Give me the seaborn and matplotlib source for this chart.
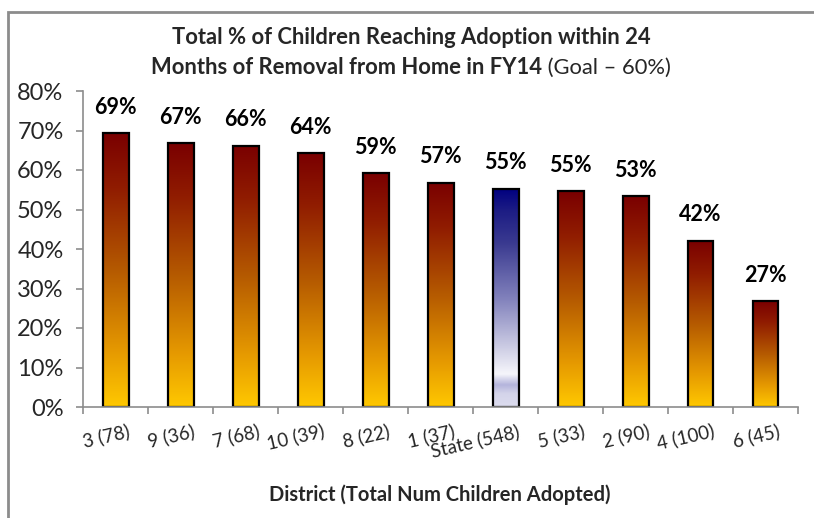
import numpy as np
import pandas as pd
import matplotlib
matplotlib.use("Agg")
import matplotlib.pyplot as plt
import seaborn as sns
from matplotlib.colors import LinearSegmentedColormap
from matplotlib.patches import Rectangle
from matplotlib.transforms import ScaledTranslation, blended_transform_factory

# District labels with total number of children adopted
districts = ["3 (78)", "9 (36)", "7 (68)", "10 (39)", "8 (22)", "1 (37)",
             "State (548)", "5 (33)", "2 (90)", "4 (100)", "6 (45)"]
# Percent reaching adoption within 24 months
pct = [69.3, 66.8, 66.2, 64.2, 59.2, 56.8, 55.3, 54.6, 53.4, 42.1, 26.8]
state_label = "State (548)"
yticks = [0, 10, 20, 30, 40, 50, 60, 70, 80]

sns.set_theme(style="white")
plt.rcParams["font.family"] = ["Lato", "DejaVu Sans"]

df = pd.DataFrame({"district": districts, "pct": pct})

fig = plt.figure(figsize=(8.14, 5.18), dpi=100)
ax = fig.add_axes([83 / 814, 1 - 407 / 518, (798 - 83) / 814, (407 - 91) / 518])

sns.barplot(data=df, x="district", y="pct", order=districts, ax=ax,
            width=0.4, color="white", edgecolor="black", linewidth=1.6,
            saturation=1)

warm = LinearSegmentedColormap.from_list(
    "warm", [(0.0, "#ffc800"), (0.2, "#e69a00"), (0.5, "#b55a00"),
             (0.8, "#901c00"), (1.0, "#7a0000")])
cool = LinearSegmentedColormap.from_list(
    "cool", [(0.0, "#dcdcee"), (0.06, "#d4d4ea"), (0.10, "#b4b4dc"),
             (0.15, "#f6f6fb"), (0.25, "#d4d4e8"), (0.5, "#8080bb"),
             (0.75, "#3a3a90"), (0.9, "#1c1c84"), (1.0, "#000080")])

grad = np.linspace(0, 1, 256).reshape(-1, 1)
for patch, name, v in zip(ax.patches, districts, pct):
    x0 = patch.get_x()
    w = patch.get_width()
    cmap = cool if name == state_label else warm
    im = ax.imshow(grad, cmap=cmap, origin="lower", aspect="auto",
                   extent=[x0, x0 + w, 0, v], zorder=patch.get_zorder() - 0.1,
                   interpolation="bilinear")
    im.set_clip_path(patch)
    patch.set_facecolor("none")
    patch.set_zorder(patch.get_zorder() + 0.2)
    ax.annotate(f"{v:.0f}%", xy=(x0 + w / 2, v), xytext=(0, 11),
                textcoords="offset points", ha="center", va="bottom",
                fontsize=15.5, fontweight="bold", color="black")

ax.set_xlim(-0.5, len(districts) - 0.5)
ax.set_ylim(0, 80)
ax.set_yticks(yticks)
ax.set_yticklabels([f"{t}%" for t in yticks], fontsize=17)

# Category labels, slanted, anchored at their upper right end
ax.set_xticks(np.arange(-0.5, len(districts), 1.0))
ax.set_xticklabels([])
label_trans = blended_transform_factory(ax.transData, ax.transAxes) + \
    ScaledTranslation(0.12, -0.15, fig.dpi_scale_trans)
for i, name in enumerate(districts):
    ax.text(i, 0, name, transform=label_trans, rotation=13, ha="right",
            va="top", rotation_mode="anchor", fontsize=13.5)

ax.tick_params(axis="x", length=5, width=1.2, color="#8c8c8c",
               direction="out", bottom=True)
ax.tick_params(axis="y", length=5, width=1.2, color="#8c8c8c",
               direction="out", left=True, pad=9)

for side in ["top", "right"]:
    ax.spines[side].set_visible(False)
for side in ["left", "bottom"]:
    ax.spines[side].set_color("#8c8c8c")
    ax.spines[side].set_linewidth(1.2)

ax.set_xlabel("")
ax.set_ylabel("")

# Outer chart frame
fig.patches.append(Rectangle((8 / 814, -0.1), 1.2, 1 - 12 / 518 + 0.1,
                             transform=fig.transFigure, fill=False,
                             edgecolor="#8c8c8c", linewidth=2))

# Title: first line bold, second line mixes bold and regular
fig.text(411 / 814, 1 - 38 / 518, "Total % of Children Reaching Adoption within 24",
         ha="center", va="center", fontsize=15.8, fontweight="bold")
t_bold = fig.text(0.5, 1 - 68 / 518, "Months of Removal from Home in FY14",
                  ha="left", va="center", fontsize=15.8, fontweight="bold")
t_reg = fig.text(0.5, 1 - 68 / 518, " (Goal \u2013 60%)",
                 ha="left", va="center", fontsize=15.8)
fig.canvas.draw()
r = fig.canvas.get_renderer()
wb = t_bold.get_window_extent(r).width
wr = t_reg.get_window_extent(r).width
start = 411 - (wb + wr) / 2
t_bold.set_x(start / 814)
t_reg.set_x((start + wb) / 814)

fig.text(440 / 814, 1 - 495 / 518, "District (Total Num Children Adopted)",
         ha="center", va="center", fontsize=14.5, fontweight="bold")

fig.savefig("out.png", dpi=100)
